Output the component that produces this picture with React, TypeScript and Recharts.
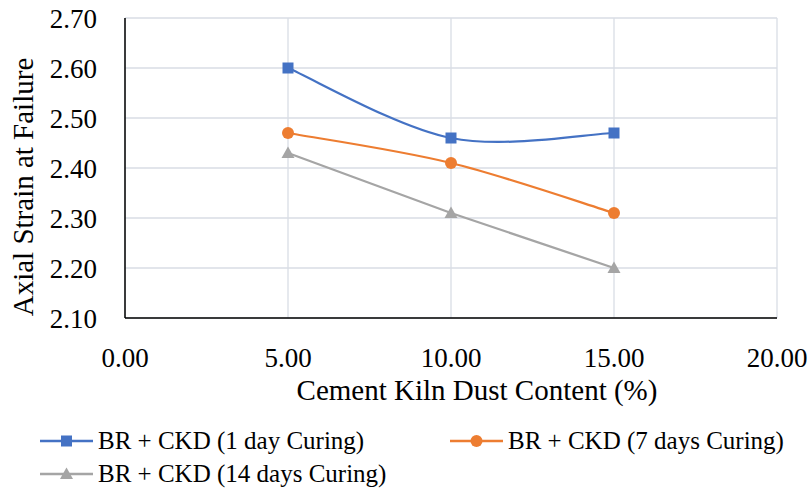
import React from "react";
import {
  LineChart,
  Line,
  XAxis,
  YAxis,
  CartesianGrid,
  Legend,
} from "recharts";

const cementKilnDust = [5, 10, 15];
const oneDay = [2.6, 2.46, 2.47];
const sevenDays = [2.47, 2.41, 2.31];
const fourteenDays = [2.43, 2.31, 2.2];

const xTicks = [0, 5, 10, 15, 20];
const yTicks = [2.1, 2.2, 2.3, 2.4, 2.5, 2.6, 2.7];

const seriesNames = [
  "BR + CKD (1 day Curing)",
  "BR + CKD (7 days Curing)",
  "BR + CKD (14 days Curing)",
];

const data = cementKilnDust.map((x, i) => ({
  x,
  oneDay: oneDay[i],
  sevenDays: sevenDays[i],
  fourteenDays: fourteenDays[i],
}));

const FONT = "'Liberation Serif', serif";
const BLUE = "#4472C4";
const ORANGE = "#ED7D31";
const GRAY = "#A5A5A5";

// excel-like smoothing: bezier with control points at 1/6 of neighbour span
const excelSmooth = (context: any) => {
  let pts: number[][] = [];
  return {
    areaStart() {},
    areaEnd() {},
    lineStart() {
      pts = [];
    },
    lineEnd() {
      const n = pts.length;
      if (!n) return;
      context.moveTo(pts[0][0], pts[0][1]);
      for (let i = 0; i < n - 1; i++) {
        const p0 = pts[Math.max(i - 1, 0)];
        const p1 = pts[i];
        const p2 = pts[i + 1];
        const p3 = pts[Math.min(i + 2, n - 1)];
        context.bezierCurveTo(
          p1[0] + (p2[0] - p0[0]) / 6,
          p1[1] + (p2[1] - p0[1]) / 6,
          p2[0] - (p3[0] - p1[0]) / 6,
          p2[1] - (p3[1] - p1[1]) / 6,
          p2[0],
          p2[1]
        );
      }
    },
    point(x: number, y: number) {
      pts.push([+x, +y]);
    },
  };
};

const Marker = ({ kind, cx, cy, color }: any) => {
  if (kind === "square")
    return <rect x={cx - 5.5} y={cy - 5.5} width={11} height={11} fill={color} />;
  if (kind === "circle") return <circle cx={cx} cy={cy} r={6} fill={color} />;
  return (
    <polygon
      points={`${cx},${cy - 6.5} ${cx + 6.5},${cy + 5} ${cx - 6.5},${cy + 5}`}
      fill={color}
    />
  );
};

const dotFor = (kind: string, color: string) => (props: any) =>
  <Marker key={`${kind}-${props.index}`} kind={kind} cx={props.cx} cy={props.cy} color={color} />;

const legendItems = [
  { name: seriesNames[0], color: BLUE, kind: "square", left: 40, top: 425 },
  { name: seriesNames[1], color: ORANGE, kind: "circle", left: 450, top: 425 },
  { name: seriesNames[2], color: GRAY, kind: "triangle", left: 40, top: 458 },
];

const ChartLegend = () => (
  <div style={{ position: "relative", width: 809, height: 80 }}>
    {legendItems.map((it) => (
      <div
        key={it.name}
        style={{
          position: "absolute",
          left: it.left,
          top: it.top - 420,
          display: "flex",
          alignItems: "center",
          fontFamily: FONT,
          fontSize: 25,
          color: "#000",
          whiteSpace: "nowrap",
          lineHeight: "32px",
        }}
      >
        <svg width={54} height={20} style={{ marginRight: 4 }}>
          <line x1={0} y1={10} x2={53} y2={10} stroke={it.color} strokeWidth={2.5} />
          <Marker kind={it.kind} cx={26.5} cy={10} color={it.color} />
        </svg>
        {it.name}
      </div>
    ))}
  </div>
);

export default function App() {
  return (
    <div style={{ position: "absolute", left: 0, top: 0, width: 809, height: 491 }}>
      <LineChart
        width={809}
        height={491}
        data={data}
        margin={{ top: 18, right: 32, left: 0, bottom: 0 }}
        style={{ fontFamily: FONT }}
      >
        <CartesianGrid stroke="#D9DDE5" strokeWidth={1.3} />
        <XAxis
          type="number"
          dataKey="x"
          domain={[0, 20]}
          ticks={xTicks}
          interval={0}
          height={173}
          tickLine={false}
          tickSize={0}
          tickMargin={30}
          tickFormatter={(v: number) => v.toFixed(2)}
          tick={{ fill: "#000", fontSize: 27, fontFamily: FONT }}
          axisLine={{ stroke: "#000", strokeWidth: 1.5 }}
          label={() => (
            <text
              x={477}
              y={400}
              textAnchor="middle"
              fontSize={29}
              fontFamily={FONT}
              fill="#000"
            >
              Cement Kiln Dust Content (%)
            </text>
          )}
        />
        <YAxis
          type="number"
          domain={[2.1, 2.7]}
          ticks={yTicks}
          interval={0}
          width={125}
          tickLine={false}
          tickSize={0}
          tickMargin={28}
          tickFormatter={(v: number) => v.toFixed(2)}
          tick={{ fill: "#000", fontSize: 27, fontFamily: FONT }}
          axisLine={{ stroke: "#000", strokeWidth: 1.5 }}
          label={() => (
            <text
              transform="translate(33,187) rotate(-90)"
              textAnchor="middle"
              fontSize={29}
              fontFamily={FONT}
              fill="#000"
            >
              Axial Strain at Failure
            </text>
          )}
        />
        <Legend
          layout="horizontal"
          verticalAlign="middle"
          align="center"
          wrapperStyle={{ left: 0, top: 420, width: 809, height: 80 }}
          content={() => <ChartLegend />}
        />
        <Line
          dataKey="oneDay"
          name={seriesNames[0]}
          type={excelSmooth as any}
          stroke={BLUE}
          strokeWidth={2.25}
          dot={dotFor("square", BLUE)}
          activeDot={false}
          isAnimationActive={false}
        />
        <Line
          dataKey="sevenDays"
          name={seriesNames[1]}
          type={excelSmooth as any}
          stroke={ORANGE}
          strokeWidth={2.25}
          dot={dotFor("circle", ORANGE)}
          activeDot={false}
          isAnimationActive={false}
        />
        <Line
          dataKey="fourteenDays"
          name={seriesNames[2]}
          type="linear"
          stroke={GRAY}
          strokeWidth={2.25}
          dot={dotFor("triangle", GRAY)}
          activeDot={false}
          isAnimationActive={false}
        />
      </LineChart>
    </div>
  );
}
